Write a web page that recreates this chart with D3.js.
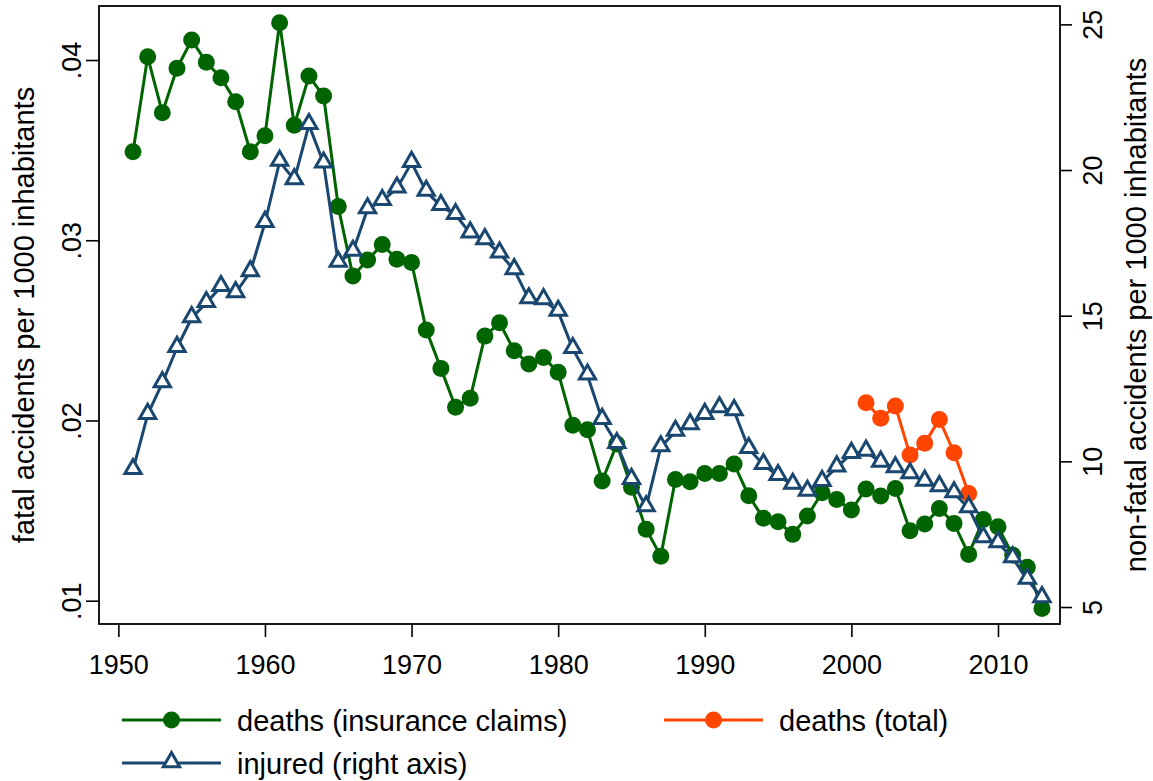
<!DOCTYPE html>
<html>
<head>
<meta charset="utf-8">
<script src="https://cdn.jsdelivr.net/npm/d3@7"></script>
<style>
	body { margin: 0; background: #fff; }
	text { font-family: "Liberation Sans", Arial, sans-serif; fill: #000; }
</style>
</head>
<body>
<div id="c"></div>
<script>

// years 1951..2013
var years = [];
for (var y = 1951; y <= 2013; y++) { years.push(y); }

var deaths_claims = [
	0.03491, 0.04018, 0.03708, 0.03954, 0.04111, 0.03987, 0.03902, 0.03769, 0.03491, 0.0358,
	0.04207, 0.03638, 0.03911, 0.038, 0.03187, 0.02801, 0.0289, 0.02977, 0.02894, 0.02877,
	0.02502, 0.02289, 0.02073, 0.02123, 0.02468, 0.02542, 0.02387, 0.02313, 0.0235, 0.02267,
	0.01973, 0.01948, 0.01664, 0.01869, 0.01629, 0.01397, 0.01247, 0.01673, 0.0166, 0.01706,
	0.01706, 0.01758, 0.01582, 0.01457, 0.01438, 0.01368, 0.0147, 0.01599, 0.01561, 0.01503,
	0.0162, 0.01581, 0.01623, 0.01388, 0.01426, 0.01512, 0.01429, 0.01257, 0.01451, 0.0141,
	0.01253, 0.01185, 0.00957
];

var total_years = [2001, 2002, 2003, 2004, 2005, 2006, 2007, 2008];
var deaths_total = [0.02098, 0.02012, 0.0208, 0.01808, 0.01873, 0.02006, 0.01821, 0.01595];

var injured = [
	9.71, 11.60, 12.69, 13.90, 14.92, 15.44, 15.99, 15.78, 16.50, 18.19,
	20.29, 19.66, 21.55, 20.23, 16.82, 17.20, 18.66, 18.94, 19.37, 20.25,
	19.26, 18.77, 18.46, 17.83, 17.60, 17.14, 16.57, 15.57, 15.54, 15.14,
	13.86, 12.95, 11.43, 10.60, 9.37, 8.43, 10.49, 11.02, 11.25, 11.60,
	11.83, 11.73, 10.43, 9.88, 9.50, 9.20, 8.96, 9.30, 9.80, 10.26,
	10.34, 9.96, 9.77, 9.56, 9.31, 9.12, 8.91, 8.40, 7.37, 7.20,
	6.68, 5.94, 5.31
];

var x_ticks = [1950, 1960, 1970, 1980, 1990, 2000, 2010];
var left_ticks = [0.01, 0.02, 0.03, 0.04];
var left_labels = [".01", ".02", ".03", ".04"];
var right_ticks = [5, 10, 15, 20, 25];

var legend_labels = ["deaths (insurance claims)", "deaths (total)", "injured (right axis)"];

var green = "#006400", orange = "#ff4500", navy = "#1a476f";

var width = 1153;
var height = 781;

var plot_l = 99, plot_r = 1060, plot_t = 6, plot_b = 624;

var svg = d3.select("#c").append("svg")
	.attr("width", width)
	.attr("height", height);

svg.append("rect")
	.attr("width", width)
	.attr("height", height)
	.attr("fill", "#fff");

var x_scale = d3.scaleLinear()
	.domain([1948.68, 2014.23])
	.range([plot_l, plot_r]);

var y_scale = d3.scaleLinear()
	.domain([0.008707, 0.042997])
	.range([plot_b, plot_t]);

var y2_scale = d3.scaleLinear()
	.domain([4.417, 25.63])
	.range([plot_b, plot_t]);

// frame
svg.append("rect")
	.attr("x", plot_l)
	.attr("y", plot_t)
	.attr("width", plot_r - plot_l)
	.attr("height", plot_b - plot_t)
	.attr("fill", "none")
	.attr("stroke", "#000")
	.attr("stroke-width", 1.8);

// axes
var x_axis = svg.append("g")
	.attr("transform", "translate(0," + plot_b + ")")
	.call(d3.axisBottom(x_scale).tickValues(x_ticks).tickSize(13).tickPadding(12).tickFormat(d3.format("d")));

var l_axis = svg.append("g")
	.attr("transform", "translate(" + plot_l + ",0)")
	.call(d3.axisLeft(y_scale).tickValues(left_ticks).tickSize(13)
		.tickFormat(function(d, i) { return left_labels[i]; }));

var r_axis = svg.append("g")
	.attr("transform", "translate(" + plot_r + ",0)")
	.call(d3.axisRight(y2_scale).tickValues(right_ticks).tickSize(12));

[x_axis, l_axis, r_axis].forEach(function(a) {
	a.select(".domain").remove();
	a.selectAll(".tick line").attr("stroke", "#000").attr("stroke-width", 1.6);
	a.selectAll(".tick text")
		.style("font-family", '"Liberation Sans", Arial, sans-serif')
		.style("font-size", "27px")
		.attr("fill", "#000");
});

x_axis.selectAll(".tick text")
	.attr("dy", null)
	.attr("y", 50);

l_axis.selectAll(".tick text")
	.attr("x", null).attr("dy", null)
	.attr("text-anchor", "middle")
	.attr("transform", "translate(-18,0) rotate(-90)");

r_axis.selectAll(".tick text")
	.attr("x", null).attr("dy", null)
	.attr("text-anchor", "middle")
	.attr("transform", "translate(42,0) rotate(-90)");

// axis titles
svg.append("text")
	.attr("text-anchor", "middle")
	.attr("transform", "translate(34," + ((plot_t + plot_b) / 2) + ") rotate(-90)")
	.style("font-size", "29px")
	.text("fatal accidents per 1000 inhabitants");

svg.append("text")
	.attr("text-anchor", "middle")
	.attr("transform", "translate(1146," + ((plot_t + plot_b) / 2) + ") rotate(-90)")
	.style("font-size", "29px")
	.text("non-fatal accidents per 1000 inhabitants");

// series
var claims_data = years.map(function(y, i) { return [y, deaths_claims[i]]; });
var total_data = total_years.map(function(y, i) { return [y, deaths_total[i]]; });
var injured_data = years.map(function(y, i) { return [y, injured[i]]; });

function draw_dots(data, ys, color) {
	var line = d3.line()
		.x(function(d) { return x_scale(d[0]); })
		.y(function(d) { return ys(d[1]); });
	svg.append("path")
		.datum(data)
		.attr("d", line)
		.attr("fill", "none")
		.attr("stroke", color)
		.attr("stroke-width", 3)
		.attr("stroke-linejoin", "round");
	svg.append("g").selectAll("circle")
		.data(data)
		.enter()
		.append("circle")
		.attr("cx", function(d) { return x_scale(d[0]); })
		.attr("cy", function(d) { return ys(d[1]); })
		.attr("r", 8.5)
		.attr("fill", color);
}

draw_dots(claims_data, y_scale, green);
draw_dots(total_data, y_scale, orange);

var tri = d3.symbol().type(d3.symbolTriangle).size(115);

svg.append("path")
	.datum(injured_data)
	.attr("d", d3.line()
		.x(function(d) { return x_scale(d[0]); })
		.y(function(d) { return y2_scale(d[1]); }))
	.attr("fill", "none")
	.attr("stroke", navy)
	.attr("stroke-width", 3)
	.attr("stroke-linejoin", "round");

// hollow triangles (white inside, like the reference)
svg.append("g").selectAll("path")
	.data(injured_data)
	.enter()
	.append("path")
	.attr("d", tri)
	.attr("transform", function(d) { return "translate(" + x_scale(d[0]) + "," + (y2_scale(d[1]) - 1) + ")"; })
	.attr("fill", "#fff")
	.attr("stroke", navy)
	.attr("stroke-width", 3);

// legend
var legend_items = [
	{ x: 122, y: 720, color: green, mark: "circle", label: legend_labels[0] },
	{ x: 664, y: 720, color: orange, mark: "circle", label: legend_labels[1] },
	{ x: 122, y: 763, color: navy, mark: "triangle", label: legend_labels[2] }
];

var lg = svg.append("g").selectAll("g")
	.data(legend_items)
	.enter()
	.append("g")
	.attr("transform", function(d) { return "translate(" + d.x + "," + d.y + ")"; });

lg.append("line")
	.attr("x1", 0).attr("x2", 99)
	.attr("stroke", function(d) { return d.color; })
	.attr("stroke-width", 3);

lg.filter(function(d) { return d.mark == "circle"; })
	.append("circle")
	.attr("cx", 49.5)
	.attr("r", 8.5)
	.attr("fill", function(d) { return d.color; });

lg.filter(function(d) { return d.mark == "triangle"; })
	.append("path")
	.attr("d", tri)
	.attr("transform", "translate(49.5,-1)")
	.attr("fill", "#fff")
	.attr("stroke", function(d) { return d.color; })
	.attr("stroke-width", 3);

lg.append("text")
	.attr("x", 115)
	.attr("y", 11)
	.style("font-size", "29px")
	.text(function(d) { return d.label; });

</script>
</body>
</html>
